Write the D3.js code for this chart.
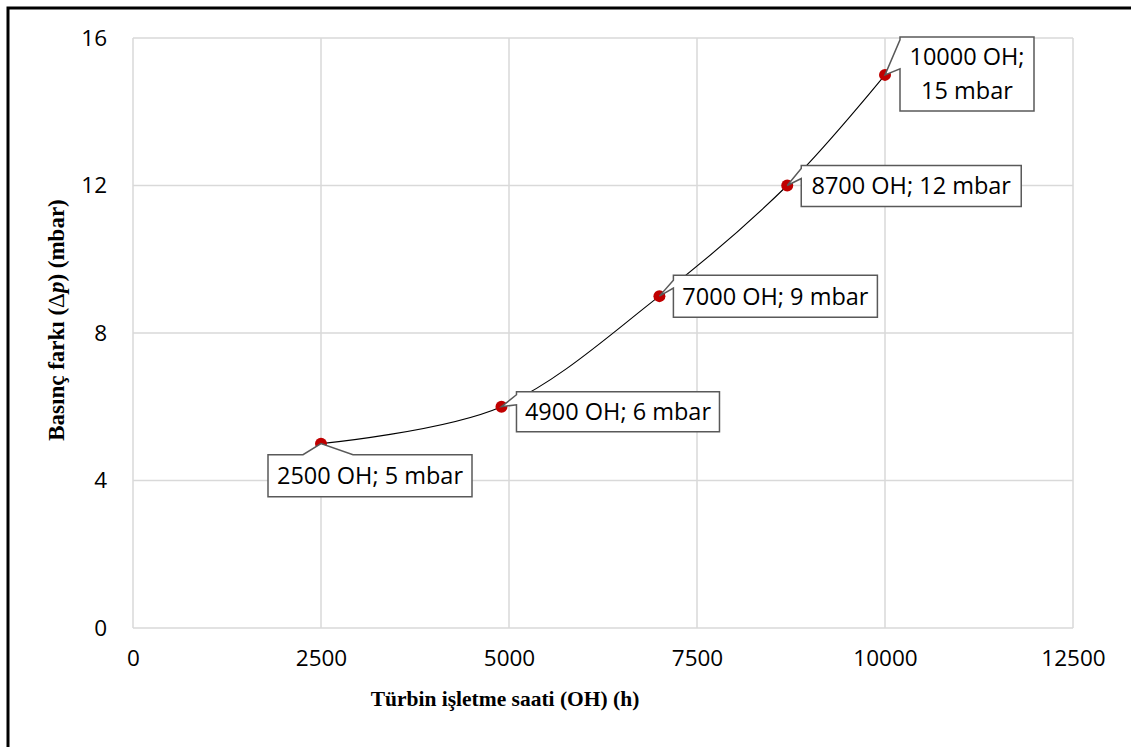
<!DOCTYPE html>
<html>
<head>
<meta charset="utf-8">
<script src="https://cdn.jsdelivr.net/npm/d3@7"></script>
<style>
  html, body { margin: 0; padding: 0; background: #fff; }
  svg { display: block; }
</style>
</head>
<body>
<svg id="chart" width="1131" height="747"></svg>
<script>
// Operating hours (OH) and measured pressure difference (mbar)
const hours = [2500, 4900, 7000, 8700, 10000];
const pressure = [5, 6, 9, 12, 15];
const xTicks = [0, 2500, 5000, 7500, 10000, 12500];
const yTicks = [0, 4, 8, 12, 16];
const labelLines = [
  ["2500 OH; 5 mbar"],
  ["4900 OH; 6 mbar"],
  ["7000 OH; 9 mbar"],
  ["8700 OH; 12 mbar"],
  ["10000 OH;", "15 mbar"]
];

// Callout box placement relative to each point: box offset, size, and pointer gap
const callouts = [
  { dx: -53, dy: 11, w: 204, h: 42, side: "top", g0: -18, g1: 32 },
  { dx: 15, dy: -15, w: 203, h: 40, side: "left", g0: 3, g1: 13 },
  { dx: 14, dy: -21, w: 204, h: 42, side: "left", g0: 5, g1: 13 },
  { dx: 14, dy: -20, w: 220, h: 41, side: "left", g0: 3, g1: 13 },
  { dx: 15, dy: -38, w: 134, h: 74, side: "left", g0: 3, g1: 32 }
];

const svg = d3.select("#chart");
const W = 1131, H = 747;
const plot = { left: 133, right: 1073, top: 38, bottom: 628 };

const x = d3.scaleLinear().domain([0, 12500]).range([plot.left, plot.right]);
const y = d3.scaleLinear().domain([0, 16]).range([plot.bottom, plot.top]);

const tickFont = "'Open Sans', sans-serif";
const titleFont = "'Liberation Serif', 'Times New Roman', serif";

svg.append("rect").attr("width", W).attr("height", H).attr("fill", "#fff");

// Frame lines along the top and left edges
svg.append("path")
  .attr("d", `M8,${H} L8,8 L${W},8`)
  .attr("fill", "none").attr("stroke", "#000").attr("stroke-width", 3);

// Grid
const grid = svg.append("g").attr("stroke", "#d9d9d9").attr("stroke-width", 1.5);
grid.selectAll("line.v").data(xTicks).join("line")
  .attr("x1", d => x(d)).attr("x2", d => x(d))
  .attr("y1", plot.top).attr("y2", plot.bottom);
grid.selectAll("line.h").data(yTicks).join("line")
  .attr("x1", plot.left).attr("x2", plot.right)
  .attr("y1", d => y(d)).attr("y2", d => y(d));

// Axes (labels only; lines come from the grid)
const xAxis = svg.append("g")
  .attr("transform", `translate(0,${plot.bottom})`)
  .call(d3.axisBottom(x).tickValues(xTicks).tickSize(0).tickPadding(22).tickFormat(d3.format("d")));
const yAxis = svg.append("g")
  .attr("transform", `translate(${plot.left},0)`)
  .call(d3.axisLeft(y).tickValues(yTicks).tickSize(0).tickPadding(26).tickFormat(d3.format("d")));
[xAxis, yAxis].forEach(a => {
  a.select(".domain").remove();
  a.selectAll("text").attr("font-family", tickFont).attr("font-size", 22.5).attr("fill", "#000");
});

// Axis titles
svg.append("text")
  .attr("x", 505).attr("y", 706)
  .attr("text-anchor", "middle")
  .attr("font-family", titleFont).attr("font-weight", "bold").attr("font-size", 21.5)
  .text("Türbin işletme saati (OH) (h)");

const yTitle = svg.append("text")
  .attr("transform", "translate(64,320) rotate(-90)")
  .attr("text-anchor", "middle")
  .attr("font-family", titleFont).attr("font-weight", "bold").attr("font-size", 23);
yTitle.append("tspan").text("Basınç farkı (");
yTitle.append("tspan").attr("font-weight", "normal").text("Δ");
yTitle.append("tspan").attr("font-style", "italic").text("p");
yTitle.append("tspan").text(") (mbar)");

// Smoothed series line
const pts = hours.map((h, i) => [h, pressure[i]]);
svg.append("path")
  .datum(pts)
  .attr("fill", "none").attr("stroke", "#000").attr("stroke-width", 1.1)
  .attr("d", d3.line().x(d => x(d[0])).y(d => y(d[1])).curve(d3.curveCardinal.tension(0)));

// Markers
svg.selectAll("circle.pt").data(pts).join("circle")
  .attr("class", "pt")
  .attr("cx", d => x(d[0])).attr("cy", d => y(d[1]))
  .attr("r", 6).attr("fill", "#c00000");

// Callouts
function calloutPath(px, py, c) {
  const bx = px + c.dx, by = py + c.dy, bw = c.w, bh = c.h;
  if (c.side === "top") {
    const a = px + c.g0, b = px + c.g1;
    return `M${bx},${by} L${a},${by} L${px},${py} L${b},${by} L${bx + bw},${by} L${bx + bw},${by + bh} L${bx},${by + bh} Z`;
  }
  const a = by + c.g0, b = by + c.g1;
  return `M${bx},${by} L${bx + bw},${by} L${bx + bw},${by + bh} L${bx},${by + bh} L${bx},${b} L${px},${py} L${bx},${a} Z`;
}

const cg = svg.append("g");
pts.forEach((d, i) => {
  const px = x(d[0]), py = y(d[1]);
  const c = callouts[i];
  cg.append("path")
    .attr("d", calloutPath(px, py, c))
    .attr("fill", "#fff").attr("stroke", "#595959").attr("stroke-width", 1.5)
    .attr("stroke-linejoin", "miter");
  const lines = labelLines[i];
  const lh = 34;
  const cx = px + c.dx + c.w / 2;
  const cy = py + c.dy + c.h / 2;
  const t = cg.append("text")
    .attr("text-anchor", "middle")
    .attr("font-family", tickFont).attr("font-size", 23.5).attr("fill", "#000");
  lines.forEach((s, k) => {
    t.append("tspan")
      .attr("x", cx)
      .attr("y", cy + (k - (lines.length - 1) / 2) * lh)
      .attr("dy", "0.36em")
      .text(s);
  });
});
</script>
</body>
</html>
